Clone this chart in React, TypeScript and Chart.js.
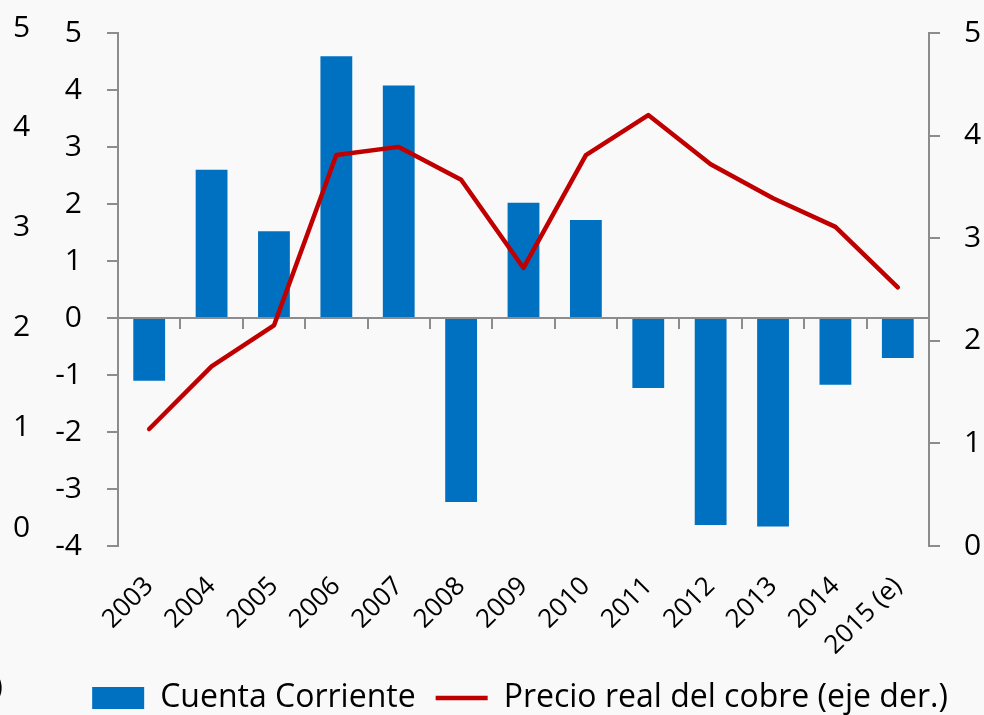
import React, { useEffect, useRef } from 'react';
import { Chart, registerables } from 'chart.js';

Chart.register(...registerables);

const categories = ['2003', '2004', '2005', '2006', '2007', '2008', '2009', '2010', '2011', '2012', '2013', '2014', '2015 (e)'];
const cuentaCorriente = [-1.1, 2.6, 1.52, 4.59, 4.08, -3.23, 2.02, 1.72, -1.23, -3.63, -3.66, -1.17, -0.7];
const precioCobre = [1.14, 1.75, 2.15, 3.81, 3.89, 3.57, 2.71, 3.81, 4.2, 3.72, 3.39, 3.11, 2.52];
const leftAxis = { min: -4, max: 5, step: 1 };
const rightAxis = { min: 0, max: 5, step: 1 };
const fragmentLabels = ['5', '4', '3', '2', '1', '0'];
const fragmentParen = ')';
const seriesNames = ['Cuenta Corriente', 'Precio real del cobre (eje der.)'];

const FONT = '"Open Sans", "Noto Sans", sans-serif';
const FS = 30;
const GRAY = '#8c8c8c';
const BG = '#f9f9f9';

export default function App() {
  const ref = useRef<HTMLCanvasElement | null>(null);

  useEffect(() => {
    document.body.style.margin = '0';
    document.body.style.background = BG;
    const canvas = ref.current;
    if (!canvas) return;
    const noEdgePad = (s: any) => {
      s.paddingTop = 0;
      s.paddingBottom = 0;
    };
    const chart = new Chart(canvas, {
      type: 'bar',
      data: {
        labels: categories,
        datasets: [
          {
            type: 'bar',
            label: seriesNames[0],
            data: cuentaCorriente,
            backgroundColor: '#0070C0',
            borderWidth: 0,
            xAxisID: 'x',
            yAxisID: 'y',
            categoryPercentage: 1,
            barPercentage: 0.51,
            order: 1,
            pointStyle: 'rect',
          } as any,
          {
            type: 'line',
            label: seriesNames[1],
            data: precioCobre,
            borderColor: '#C00000',
            backgroundColor: '#C00000',
            borderWidth: 4.5,
            pointRadius: 0,
            tension: 0,
            borderJoinStyle: 'round',
            borderCapStyle: 'round',
            xAxisID: 'x',
            yAxisID: 'y1',
            order: 0,
            pointStyle: 'line',
          } as any,
        ],
      },
      options: {
        responsive: false,
        devicePixelRatio: 1,
        animation: false,
        layout: { padding: { top: 33, left: 56, right: 0, bottom: -9 } },
        plugins: {
          tooltip: { enabled: false },
          legend: {
            position: 'bottom',
            labels: {
              usePointStyle: true,
              pointStyleWidth: 52,
              boxWidth: 52,
              boxHeight: 22,
              padding: 20,
              color: '#000',
              font: { family: FONT, size: 32 },
              sort: (a: any, b: any) => a.datasetIndex - b.datasetIndex,
            },
          },
        },
        scales: {
          x: {
            type: 'category',
            position: 'bottom',
            offset: true,
            grid: { display: false, drawTicks: false },
            border: { display: false },
            ticks: {
              autoSkip: false,
              minRotation: 45,
              maxRotation: 45,
              padding: 25,
              color: '#000',
              font: { family: FONT, size: 26 },
            },
            afterFit: (s: any) => {
              s.height = 116;
            },
          },
          x0: {
            type: 'category',
            axis: 'x',
            position: { y: 0 },
            offset: true,
            grid: {
              offset: true,
              drawOnChartArea: false,
              drawTicks: true,
              tickLength: 10,
              color: GRAY,
              lineWidth: 2,
            },
            border: { display: true, color: GRAY, width: 2 },
            ticks: { display: false },
          },
          y: {
            position: 'left',
            min: leftAxis.min,
            max: leftAxis.max,
            ticks: {
              stepSize: leftAxis.step,
              padding: 25,
              color: '#000',
              font: { family: FONT, size: FS },
            },
            grid: { drawOnChartArea: false, tickLength: 11, color: GRAY, lineWidth: 2 },
            border: { color: GRAY, width: 2 },
            afterFit: (s: any) => {
              s.width = 62;
              noEdgePad(s);
            },
          },
          y1: {
            position: 'right',
            min: rightAxis.min,
            max: rightAxis.max,
            ticks: {
              stepSize: rightAxis.step,
              padding: 24,
              color: '#000',
              font: { family: FONT, size: FS },
            },
            grid: { drawOnChartArea: false, tickLength: 11, color: GRAY, lineWidth: 2 },
            border: { color: GRAY, width: 2 },
            afterFit: (s: any) => {
              s.width = 55;
              noEdgePad(s);
            },
          },
        },
      } as any,
    });
    return () => chart.destroy();
  }, []);

  const fragCenter = [27, 126, 226, 326, 426, 527];

  return (
    <div style={{ position: 'fixed', left: 0, top: 0, width: 984, height: 715, background: BG, overflow: 'hidden' }}>
      <canvas ref={ref} width={984} height={715} style={{ display: 'block' }} />
      {fragmentLabels.map((t, i) => (
        <span
          key={t}
          style={{
            position: 'absolute',
            left: 13,
            top: fragCenter[i] - 16,
            fontFamily: FONT,
            fontSize: FS,
            lineHeight: 1,
            color: '#000',
          }}
        >
          {t}
        </span>
      ))}
      <span
        style={{ position: 'absolute', left: -6, top: 670, fontFamily: FONT, fontSize: FS, lineHeight: 1, color: '#000' }}
      >
        {fragmentParen}
      </span>
    </div>
  );
}
